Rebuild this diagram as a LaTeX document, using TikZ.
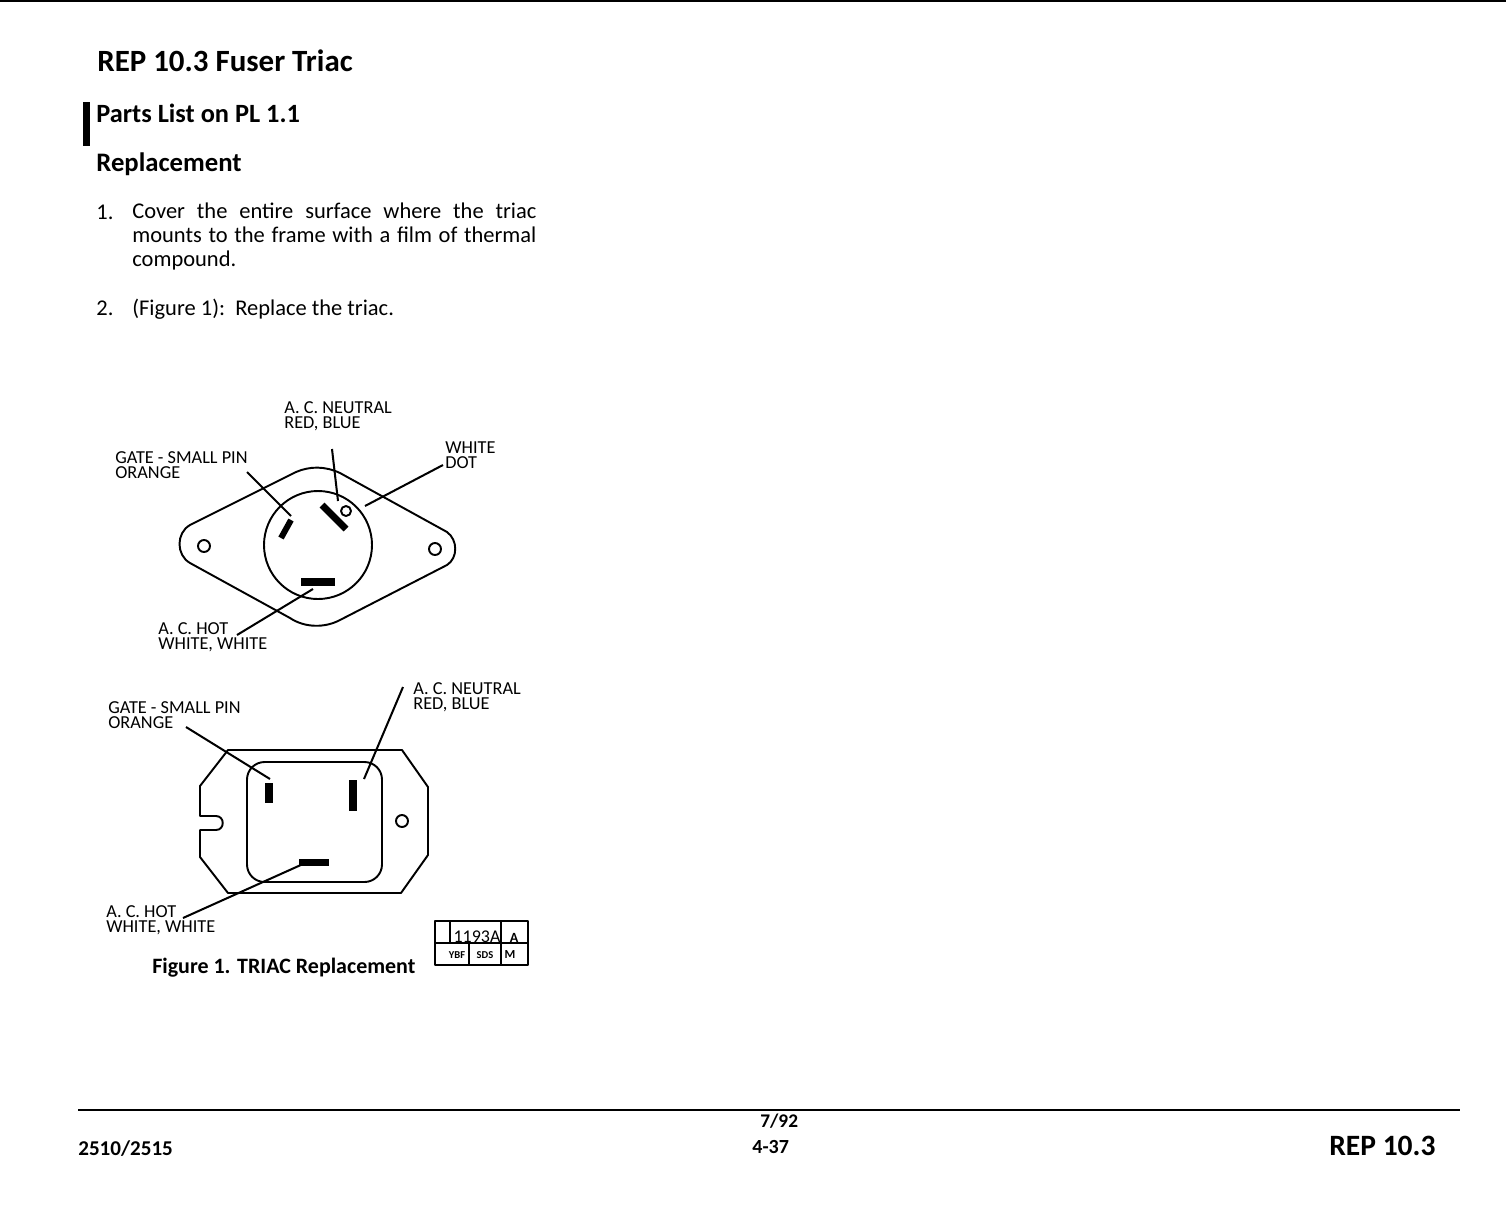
\documentclass[tikz,border=0pt]{standalone}
\usepackage{fontspec}
\setmainfont{Carlito}
\tikzset{
    txt/.style={inner sep=0, anchor=base west, align=left},
    callout/.style={inner sep=0, anchor=north west, align=left,
        font=\fontsize{10.4}{8.5}\selectfont},
    heading/.style={txt, font=\bfseries\fontsize{16}{16}\selectfont},
    body/.style={txt, font=\fontsize{12.8}{13.6}\selectfont},
    outline/.style={line width=1.1pt, line join=round},
    leader/.style={line width=1.15pt},
    pin/.style={line width=4pt},
    cell/.style={inner sep=0, anchor=base, font=\bfseries\fontsize{6}{6}\selectfont}
}
\begin{document}
\begin{tikzpicture}[x=0.02cm, y=-0.02cm]
    \useasboundingbox (0, 0) rectangle (1506, 1227);
    \draw[line width=0.8pt] (0, 1) -- (1506, 1);

    % Headings
    \node[heading, font=\bfseries\fontsize{17.6}{17.6}\selectfont] (title) at (97, 71) {REP 10.3 Fuser Triac};
    \node[heading, font=\bfseries\fontsize{15}{15}\selectfont] (parts) at (96, 122) {Parts List on PL 1.1};
    \node[heading, font=\bfseries\fontsize{15.2}{15.2}\selectfont] (repl) at (96, 171) {Replacement};
    \fill (83, 102) rectangle (90, 146);

    % Steps
    \node[body] (num1) at (96, 219) {1.};
    \node[inner sep=0, anchor=north west, text width=404*0.02cm, align=justify,
    font=\fontsize{12.8}{13.6}\selectfont] (step1) at (132, 203)
    {Cover the entire surface where the triac\linebreak
    mounts to the frame with a film of thermal\linebreak
    compound.};
    \node[body] (num2) at (96, 315) {2.};
    \node[body] (step2) at (132, 315) {(Figure 1):\ \ Replace the triac.};

    % Round triac
    \draw[outline] (190, 525) -- (296, 472) .. controls (310, 466) and (325, 466) .. (340, 473)
    -- (447, 532) .. controls (458, 540) and (458, 558) .. (447, 565)
    -- (340, 620) .. controls (325, 628) and (305, 628) .. (290, 618)
    -- (190, 563) .. controls (176, 555) and (176, 533) .. (190, 525) -- cycle;
    \draw[outline] (318, 545) circle (54);
    \draw[outline] (204, 546) circle (6);
    \draw[outline] (435, 549) circle (6);
    \draw[outline] (346, 511) circle (5);
    \draw[pin, line width=3.4pt] (291, 520) -- (281, 538);
    \draw[pin] (322, 505) -- (346, 529);
    \draw[pin, line width=5pt] (301, 582) -- (335, 582);

    \node[callout] (neutralA) at (284, 401) {A. C. NEUTRAL\\RED, BLUE};
    \node[callout] (gateA) at (115, 451) {GATE - SMALL PIN\\ORANGE};
    \node[callout] (dotA) at (445, 441) {WHITE\\DOT};
    \node[callout] (hotA) at (158, 622) {A. C. HOT\\WHITE, WHITE};

    \coordinate (gateA1) at (247, 472);
    \coordinate (gateA2) at (291, 516);
    \coordinate (neutralA1) at (332, 449);
    \coordinate (neutralA2) at (338, 501);
    \coordinate (dotA1) at (443, 465);
    \coordinate (dotA2) at (365, 506);
    \coordinate (hotA1) at (237, 635);
    \coordinate (hotA2) at (313, 589);
    \draw[leader] (gateA1) -- (gateA2);
    \draw[leader] (neutralA1) -- (neutralA2);
    \draw[leader] (dotA1) -- (dotA2);
    \draw[leader] (hotA1) -- (hotA2);

    % Square triac
    \draw[outline] (228, 750) -- (402, 750) -- (428, 787) -- (428, 855) -- (401, 893)
    -- (228, 893) -- (200, 857) -- (200, 830) -- (216, 830)
    .. controls (225, 830) and (225, 816) .. (216, 816)
    -- (200, 816) -- (200, 786) -- cycle;
    \draw[outline, rounded corners=10] (247, 762) rectangle (382, 882);
    \draw[outline] (402, 821) circle (6);
    \draw[pin] (269, 783) -- (269, 803);
    \draw[pin] (353, 780) -- (353, 811);
    \draw[pin] (299, 862) -- (329, 862);

    \node[callout] (gateB) at (108, 701) {GATE - SMALL PIN\\ORANGE};
    \node[callout] (neutralB) at (413, 682) {A. C. NEUTRAL\\RED, BLUE};
    \node[callout] (hotB) at (106, 905) {A. C. HOT\\WHITE, WHITE};

    \coordinate (gateB1) at (186, 727);
    \coordinate (gateB2) at (270, 779);
    \coordinate (neutralB1) at (403, 687);
    \coordinate (neutralB2) at (364, 779);
    \coordinate (hotB1) at (183, 918);
    \coordinate (hotB2) at (303, 864);
    \draw[leader] (gateB1) -- (gateB2);
    \draw[leader] (neutralB1) -- (neutralB2);
    \draw[leader] (hotB1) -- (hotB2);

    % Caption and stamp
    \node[txt, font=\bfseries\fontsize{12.5}{12.5}\selectfont] (caption) at (152, 973) {Figure 1. TRIAC Replacement};
    \draw[outline] (435, 921) rectangle (528, 965);
    \draw[outline] (435, 943) -- (528, 943);
    \draw[outline] (450, 921) -- (450, 943);
    \draw[outline] (501, 921) -- (501, 965);
    \draw[outline] (469, 943) -- (469, 965);
    \node[cell, font=\fontsize{10.2}{10.2}\selectfont] (partno) at (477, 942) {1193A};
    \node[cell, font=\bfseries\fontsize{8}{8}\selectfont] (rev) at (514, 942) {A};
    \node[cell] (ybf) at (457, 958) {YBF};
    \node[cell] (sds) at (485, 958) {SDS};
    \node[cell, font=\bfseries\fontsize{7}{7}\selectfont] (mark) at (510, 958) {M};

    % Footer
    \draw[line width=1.2pt] (78, 1110) -- (1460, 1110);
    \node[txt, font=\bfseries\fontsize{12}{12}\selectfont] (model) at (78, 1155) {2510/2515};
    \node[txt, font=\bfseries\fontsize{11}{11}\selectfont] (date) at (760, 1127) {7/92};
    \node[txt, font=\bfseries\fontsize{11.4}{11.4}\selectfont] (page) at (752, 1153) {4-37};
    \node[txt, font=\bfseries\fontsize{16.8}{16.8}\selectfont] (rep) at (1329, 1155) {REP 10.3};
\end{tikzpicture}
\end{document}
